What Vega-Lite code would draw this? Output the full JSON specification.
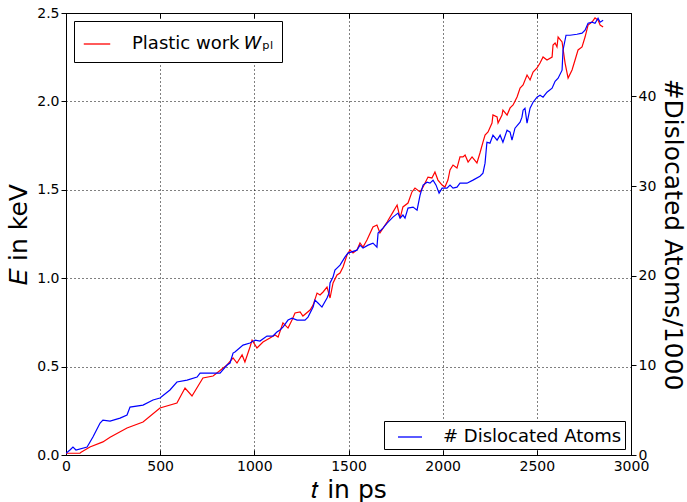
{
  "$schema": "https://vega.github.io/schema/vega-lite/v6.json",
  "width": 565,
  "height": 442,
  "autosize": {"type": "none"},
  "padding": {"left": 66, "top": 13, "right": 56, "bottom": 47},
  "background": "white",
  "title": {"text": "pl", "anchor": "middle", "dx": 37, "offset": 10, "baseline": "alphabetic", "font": "DejaVu Serif", "fontSize": 12, "fontWeight": "normal", "color": "black"},
  "datasets": {
    "work": [
      {"t":0,"E":0.01},{"t":74,"E":0.01},{"t":80,"E":0.015},{"t":127,"E":0.045},{"t":196,"E":0.074},{"t":234,"E":0.10},{"t":324,"E":0.153},{"t":409,"E":0.187},{"t":499,"E":0.266},{"t":589,"E":0.294},{"t":632,"E":0.379},{"t":669,"E":0.334},{"t":727,"E":0.436},{"t":781,"E":0.447},{"t":855,"E":0.509},{"t":887,"E":0.549},{"t":908,"E":0.520},{"t":935,"E":0.566},{"t":950,"E":0.526},{"t":977,"E":0.611},{"t":988,"E":0.650},{"t":1014,"E":0.605},{"t":1046,"E":0.639},{"t":1083,"E":0.662},{"t":1110,"E":0.679},{"t":1126,"E":0.667},{"t":1152,"E":0.747},{"t":1179,"E":0.718},{"t":1200,"E":0.764},{"t":1216,"E":0.803},{"t":1243,"E":0.809},{"t":1258,"E":0.786},{"t":1296,"E":0.820},{"t":1312,"E":0.848},{"t":1333,"E":0.916},{"t":1349,"E":0.905},{"t":1365,"E":0.922},{"t":1386,"E":0.950},{"t":1402,"E":0.888},{"t":1418,"E":0.973},{"t":1439,"E":1.018},{"t":1455,"E":1.029},{"t":1471,"E":1.063},{"t":1492,"E":1.131},{"t":1508,"E":1.160},{"t":1524,"E":1.143},{"t":1545,"E":1.160},{"t":1561,"E":1.199},{"t":1577,"E":1.176},{"t":1598,"E":1.216},{"t":1630,"E":1.290},{"t":1651,"E":1.301},{"t":1667,"E":1.256},{"t":1705,"E":1.318},{"t":1736,"E":1.374},{"t":1758,"E":1.414},{"t":1774,"E":1.340},{"t":1789,"E":1.403},{"t":1816,"E":1.425},{"t":1837,"E":1.488},{"t":1853,"E":1.510},{"t":1880,"E":1.488},{"t":1896,"E":1.516},{"t":1922,"E":1.572},{"t":1943,"E":1.567},{"t":1959,"E":1.601},{"t":1975,"E":1.555},{"t":1997,"E":1.527},{"t":2012,"E":1.516},{"t":2028,"E":1.555},{"t":2039,"E":1.612},{"t":2055,"E":1.640},{"t":2076,"E":1.623},{"t":2092,"E":1.686},{"t":2108,"E":1.686},{"t":2119,"E":1.697},{"t":2135,"E":1.657},{"t":2156,"E":1.686},{"t":2182,"E":1.652},{"t":2198,"E":1.708},{"t":2214,"E":1.770},{"t":2225,"E":1.810},{"t":2241,"E":1.827},{"t":2262,"E":1.878},{"t":2267,"E":1.923},{"t":2289,"E":1.912},{"t":2294,"E":1.878},{"t":2315,"E":1.923},{"t":2320,"E":1.951},{"t":2342,"E":1.923},{"t":2358,"E":1.963},{"t":2374,"E":1.980},{"t":2395,"E":2.025},{"t":2411,"E":2.076},{"t":2427,"E":2.093},{"t":2448,"E":2.149},{"t":2464,"E":2.121},{"t":2480,"E":2.166},{"t":2501,"E":2.189},{"t":2517,"E":2.217},{"t":2533,"E":2.251},{"t":2554,"E":2.234},{"t":2581,"E":2.251},{"t":2586,"E":2.319},{"t":2597,"E":2.330},{"t":2607,"E":2.308},{"t":2613,"E":2.364},{"t":2634,"E":2.336},{"t":2650,"E":2.217},{"t":2666,"E":2.132},{"t":2687,"E":2.178},{"t":2703,"E":2.234},{"t":2719,"E":2.291},{"t":2740,"E":2.308},{"t":2756,"E":2.364},{"t":2772,"E":2.432},{"t":2793,"E":2.449},{"t":2809,"E":2.472},{"t":2825,"E":2.460},{"t":2836,"E":2.432},{"t":2852,"E":2.421}
    ],
    "disl": [
      {"t":0,"n":0.2},{"t":21,"n":0.56},{"t":37,"n":0.89},{"t":53,"n":0.56},{"t":112,"n":0.89},{"t":143,"n":2.0},{"t":181,"n":3.57},{"t":196,"n":3.90},{"t":234,"n":3.79},{"t":287,"n":4.12},{"t":324,"n":4.46},{"t":340,"n":5.35},{"t":409,"n":5.57},{"t":462,"n":6.13},{"t":499,"n":6.35},{"t":552,"n":7.25},{"t":589,"n":8.14},{"t":643,"n":8.36},{"t":696,"n":8.70},{"t":712,"n":9.14},{"t":818,"n":9.14},{"t":855,"n":10.03},{"t":871,"n":10.26},{"t":887,"n":11.37},{"t":897,"n":11.48},{"t":940,"n":12.26},{"t":977,"n":12.49},{"t":1004,"n":12.82},{"t":1030,"n":12.71},{"t":1067,"n":13.27},{"t":1099,"n":13.27},{"t":1120,"n":13.71},{"t":1136,"n":13.94},{"t":1152,"n":14.27},{"t":1179,"n":15.05},{"t":1200,"n":15.27},{"t":1227,"n":15.05},{"t":1269,"n":15.05},{"t":1285,"n":15.38},{"t":1312,"n":16.50},{"t":1322,"n":17.28},{"t":1338,"n":16.95},{"t":1359,"n":16.50},{"t":1386,"n":17.50},{"t":1397,"n":18.06},{"t":1402,"n":19.18},{"t":1418,"n":19.84},{"t":1428,"n":20.62},{"t":1455,"n":21.18},{"t":1481,"n":22.07},{"t":1497,"n":22.52},{"t":1545,"n":22.85},{"t":1561,"n":23.41},{"t":1577,"n":23.08},{"t":1604,"n":23.41},{"t":1630,"n":23.63},{"t":1651,"n":23.19},{"t":1657,"n":24.75},{"t":1683,"n":25.31},{"t":1705,"n":25.86},{"t":1736,"n":26.53},{"t":1763,"n":26.98},{"t":1774,"n":26.42},{"t":1789,"n":26.76},{"t":1800,"n":26.42},{"t":1816,"n":27.54},{"t":1843,"n":27.65},{"t":1864,"n":27.31},{"t":1880,"n":28.99},{"t":1896,"n":30.10},{"t":1917,"n":30.43},{"t":1933,"n":30.32},{"t":1949,"n":30.66},{"t":1965,"n":30.10},{"t":1981,"n":29.21},{"t":1997,"n":29.77},{"t":2023,"n":29.77},{"t":2039,"n":30.10},{"t":2055,"n":29.77},{"t":2076,"n":29.88},{"t":2092,"n":30.32},{"t":2129,"n":30.32},{"t":2161,"n":30.66},{"t":2198,"n":31.10},{"t":2214,"n":31.44},{"t":2225,"n":32.55},{"t":2235,"n":34.89},{"t":2251,"n":34.78},{"t":2267,"n":35.67},{"t":2289,"n":35.12},{"t":2305,"n":35.67},{"t":2320,"n":34.89},{"t":2342,"n":36.23},{"t":2358,"n":36.01},{"t":2368,"n":35.12},{"t":2384,"n":36.45},{"t":2411,"n":37.12},{"t":2421,"n":37.68},{"t":2427,"n":38.46},{"t":2437,"n":38.68},{"t":2448,"n":37.01},{"t":2464,"n":38.68},{"t":2480,"n":39.35},{"t":2501,"n":39.91},{"t":2517,"n":40.13},{"t":2533,"n":39.91},{"t":2554,"n":40.47},{"t":2581,"n":40.91},{"t":2597,"n":41.69},{"t":2613,"n":42.03},{"t":2634,"n":42.92},{"t":2639,"n":45.15},{"t":2655,"n":46.82},{"t":2676,"n":46.82},{"t":2713,"n":46.93},{"t":2740,"n":47.05},{"t":2756,"n":47.38},{"t":2772,"n":48.16},{"t":2793,"n":48.27},{"t":2809,"n":48.16},{"t":2825,"n":48.72},{"t":2836,"n":48.27},{"t":2852,"n":48.49}
    ]
  },
  "layer": [
    {
      "data": {"name": "work"},
      "mark": {"type": "line", "stroke": "#ff0000", "strokeWidth": 1.2, "clip": true},
      "encoding": {
        "x": {"field": "t", "type": "quantitative", "scale": {"domain": [0, 3000], "nice": false, "zero": false},
          "axis": {"orient": "bottom", "title": "𝑡 in ps", "titleFontSize": 25, "values": [0,500,1000,1500,2000,2500,3000], "format": "d", "grid": true, "tickSize": -5, "labelPadding": 9, "titlePadding": 4}},
        "y": {"field": "E", "type": "quantitative", "scale": {"domain": [0, 2.5], "nice": false},
          "axis": {"orient": "left", "title": "𝐸 in keV", "titleFontSize": 25, "values": [0,0.5,1,1.5,2,2.5], "format": ".1f", "grid": true, "tickSize": 5, "labelPadding": 2, "titlePadding": 5}},
        "color": {"datum": "Plastic work 𝑊ₚₗ", "type": "nominal", "scale": {"range": ["#ff0000"]},
          "legend": {"orient": "top-left", "offset": 8, "title": null, "labelOffset": 21}}
      }
    },
    {
      "data": {"name": "disl"},
      "mark": {"type": "line", "stroke": "#0000ff", "strokeWidth": 1.2, "clip": true},
      "encoding": {
        "x": {"field": "t", "type": "quantitative", "scale": {"domain": [0, 3000], "nice": false, "zero": false},
          "axis": {"orient": "top", "title": null, "labels": false, "values": [0,500,1000,1500,2000,2500,3000], "grid": false, "tickSize": -5}},
        "y": {"field": "n", "type": "quantitative", "scale": {"domain": [0, 49.3], "nice": false},
          "axis": {"orient": "right", "title": "#Dislocated Atoms/1000", "titleFontSize": 25, "values": [0,10,20,30,40], "grid": false, "tickSize": 5, "labelPadding": 2, "titlePadding": 4}},
        "color": {"datum": "# Dislocated Atoms\u00a0", "type": "nominal", "scale": {"range": ["#0000ff"]},
          "legend": {"orient": "bottom-right", "offset": 6, "title": null, "padding": 3, "symbolSize": 580, "symbolOffset": 10, "labelOffset": 20, "labelFontSize": 18}}
      }
    }
  ],
  "resolve": {"scale": {"y": "independent", "color": "independent"}, "axis": {"x": "independent", "y": "independent"}, "legend": {"color": "independent"}},
  "config": {
    "font": "DejaVu Sans",
    "view": {"stroke": "black", "strokeWidth": 1},
    "axis": {
      "domainColor": "black", "domainWidth": 1, "tickColor": "black", "tickWidth": 1,
      "labelFont": "DejaVu Sans", "labelFontSize": 14, "labelColor": "black",
      "titleFont": "DejaVu Sans", "titleFontSize": 23, "titleFontWeight": "normal", "titleColor": "black",
      "gridColor": "black", "gridDash": [1, 3], "gridWidth": 1, "gridOpacity": 1,
      "labelFlush": false, "labelOverlap": false
    },
    "legend": {
      "strokeColor": "black", "fillColor": "white", "padding": 9, "cornerRadius": 0,
      "symbolType": "stroke", "symbolSize": 700, "symbolStrokeWidth": 1.3,
      "labelFont": "DejaVu Sans", "labelFontSize": 18, "labelColor": "black", "labelOffset": 18,
      "labelLimit": 400
    }
  }
}
